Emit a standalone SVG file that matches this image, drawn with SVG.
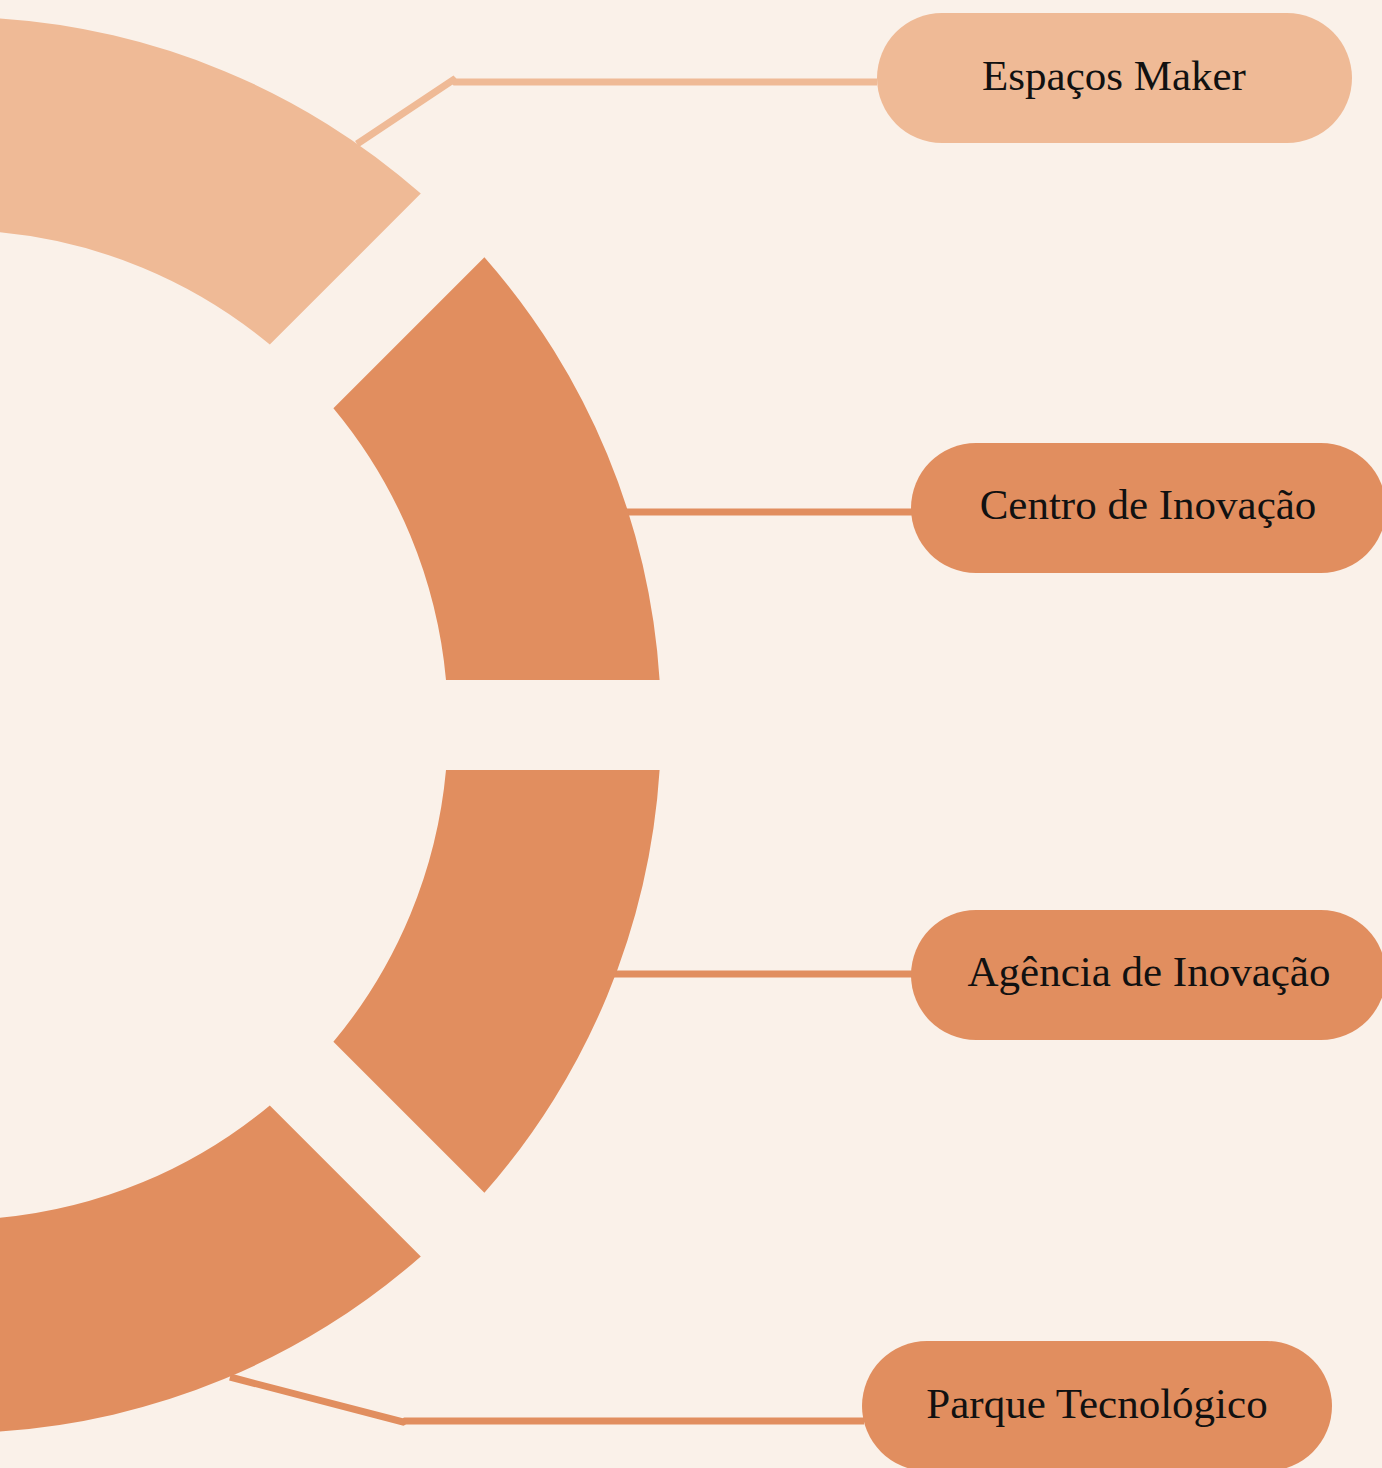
<svg xmlns="http://www.w3.org/2000/svg" width="1382" height="1468" viewBox="0 0 1382 1468">
<style>
.bg{fill:#FAF1E9}
.light{fill:#EFBA96}
.dark{fill:#E18E5F}
.cl{fill:none;stroke:#EFBA96;stroke-width:7}
.cd{fill:none;stroke:#E18E5F;stroke-width:7}
.lbl{font-family:"Liberation Serif","Times New Roman",serif;font-size:43px;fill:#111111;text-anchor:middle}
</style>
<rect class="bg" x="0" y="0" width="1382" height="1468"/>
<g id="connectors">
<polyline class="cl" points="357,144 453,80 455,82 877,82"/>
<line class="cd" x1="620" y1="512" x2="912" y2="512"/>
<line class="cd" x1="610" y1="974" x2="912" y2="974"/>
<polyline class="cd" points="230,1377 403,1422 405,1421 864,1421"/>
</g>
<g id="ring">
<path id="seg1" class="light" d="M -2,18.4 A 708 708 0 0 1 420.8,193.6 L 269.8,344.6 A 495 495 0 0 0 -2,232.1 Z"/>
<path id="seg2" class="dark" d="M 484.4,257.2 A 708 708 0 0 1 659.6,680 L 446,680 A 495 495 0 0 0 333.4,408.2 Z"/>
<path id="seg3" class="dark" d="M 659.6,770 A 708 708 0 0 1 484.4,1192.8 L 333.4,1041.8 A 495 495 0 0 0 446,770 Z"/>
<path id="seg4" class="dark" d="M 420.8,1256.4 A 708 708 0 0 1 -2,1431.6 L -2,1218 A 495 495 0 0 0 269.8,1105.4 Z"/>
</g>
<g id="node-espacos">
<rect class="light" x="877" y="13" width="475" height="130" rx="65"/>
<text class="lbl" x="1114" y="90">Espaços Maker</text>
</g>
<g id="node-centro">
<rect class="dark" x="911" y="443" width="475" height="130" rx="65"/>
<text class="lbl" x="1148" y="519">Centro de Inovação</text>
</g>
<g id="node-agencia">
<rect class="dark" x="911" y="910" width="475" height="130" rx="65"/>
<text class="lbl" x="1149" y="986">Agência de Inovação</text>
</g>
<g id="node-parque">
<rect class="dark" x="862" y="1341" width="470" height="130" rx="65"/>
<text class="lbl" x="1097" y="1418">Parque Tecnológico</text>
</g>
</svg>
